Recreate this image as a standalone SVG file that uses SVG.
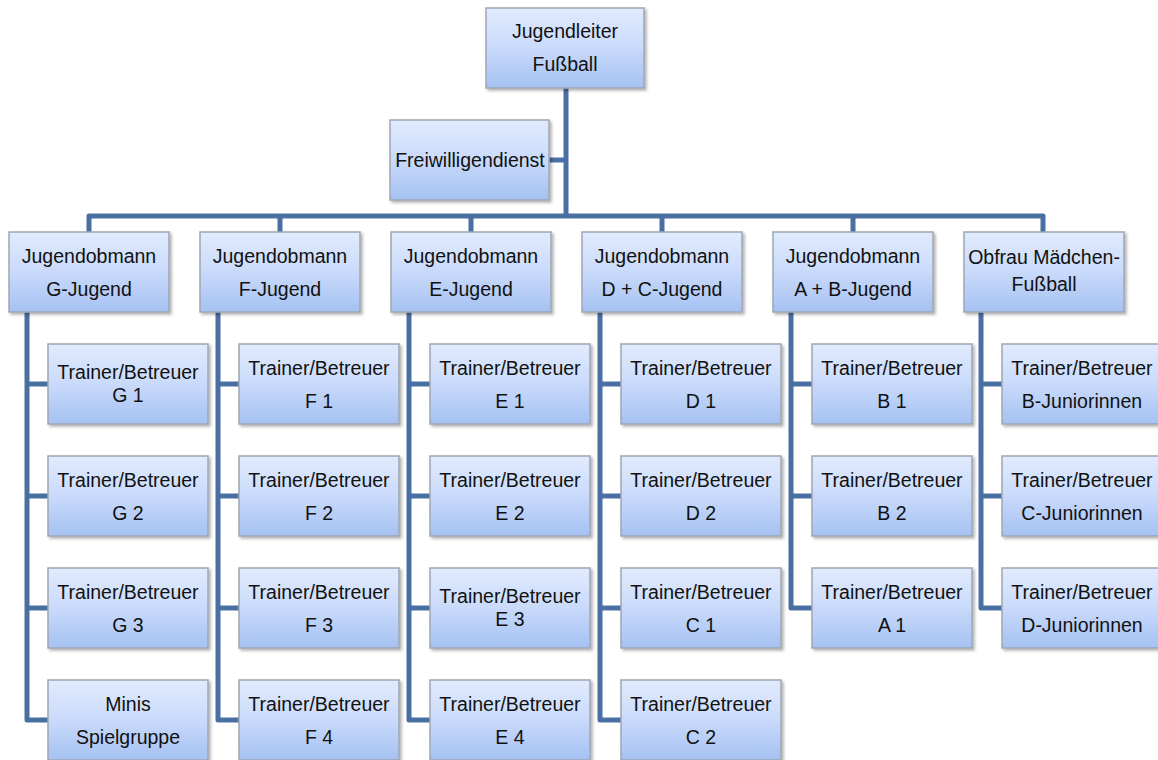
<svg xmlns="http://www.w3.org/2000/svg" width="1158" height="760" viewBox="0 0 1158 760">
<defs>
<linearGradient id="g" x1="0" y1="0" x2="0" y2="1">
<stop offset="0" stop-color="#e1ebfd"/>
<stop offset="0.5" stop-color="#c9dafa"/>
<stop offset="1" stop-color="#a5c1f3"/>
</linearGradient>
<filter id="sh" x="-10%" y="-10%" width="130%" height="130%">
<feDropShadow dx="2" dy="2" stdDeviation="1.5" flood-color="#000" flood-opacity="0.3"/>
</filter>
</defs>
<style>
.b{fill:url(#g);stroke:#9ea7b3;stroke-width:1.5;filter:url(#sh)}
.t{font-family:"Liberation Sans",Arial,sans-serif;font-size:19.5px;fill:#111;text-anchor:middle}
.c{fill:none;stroke:#4a6fa2;stroke-width:5;stroke-linejoin:round;stroke-linecap:butt}
</style>
<rect width="1158" height="760" fill="#fff"/>
<g id="connectors" class="c">
<path d="M566 88 V216"/>
<path d="M549 160 H566"/>
<path d="M89 232 V216 H1043 V232"/>
<path d="M280 216 V232 M471 216 V232 M662 216 V232 M853 216 V232"/>
<path d="M27 312 V720 H48 M27 384 H48 M27 496 H48 M27 608 H48"/>
<path d="M218 312 V720 H239 M218 384 H239 M218 496 H239 M218 608 H239"/>
<path d="M409 312 V720 H430 M409 384 H430 M409 496 H430 M409 608 H430"/>
<path d="M600 312 V720 H621 M600 384 H621 M600 496 H621 M600 608 H621"/>
<path d="M791 312 V608 H812 M791 384 H812 M791 496 H812"/>
<path d="M981 312 V608 H1002 M981 384 H1002 M981 496 H1002"/>
</g>
<g id="n-top"><rect class="b" x="486" y="8" width="158" height="80"/><text class="t" x="565" y="38">Jugendleiter</text><text class="t" x="565" y="71">Fußball</text></g>
<g id="n-frei"><rect class="b" x="390" y="120" width="159" height="80"/><text class="t" x="470" y="167">Freiwilligendienst</text></g>
<g id="n-g"><rect class="b" x="9" y="232" width="160" height="80"/><text class="t" x="89" y="263">Jugendobmann</text><text class="t" x="89" y="296">G-Jugend</text></g>
<g id="n-f"><rect class="b" x="200" y="232" width="160" height="80"/><text class="t" x="280" y="263">Jugendobmann</text><text class="t" x="280" y="296">F-Jugend</text></g>
<g id="n-e"><rect class="b" x="391" y="232" width="160" height="80"/><text class="t" x="471" y="263">Jugendobmann</text><text class="t" x="471" y="296">E-Jugend</text></g>
<g id="n-dc"><rect class="b" x="582" y="232" width="160" height="80"/><text class="t" x="662" y="263">Jugendobmann</text><text class="t" x="662" y="296">D + C-Jugend</text></g>
<g id="n-ab"><rect class="b" x="773" y="232" width="160" height="80"/><text class="t" x="853" y="263">Jugendobmann</text><text class="t" x="853" y="296">A + B-Jugend</text></g>
<g id="n-m"><rect class="b" x="964" y="232" width="160" height="80"/><text class="t" x="1044" y="264">Obfrau Mädchen-</text><text class="t" x="1044" y="291">Fußball</text></g>

<g id="n-g1"><rect class="b" x="48" y="344" width="160" height="80"/><text class="t" x="128" y="379">Trainer/Betreuer</text><text class="t" x="128" y="402">G 1</text></g>
<g id="n-g2"><rect class="b" x="48" y="456" width="160" height="80"/><text class="t" x="128" y="487">Trainer/Betreuer</text><text class="t" x="128" y="520">G 2</text></g>
<g id="n-g3"><rect class="b" x="48" y="568" width="160" height="80"/><text class="t" x="128" y="599">Trainer/Betreuer</text><text class="t" x="128" y="632">G 3</text></g>
<g id="n-minis"><rect class="b" x="48" y="680" width="160" height="80"/><text class="t" x="128" y="711">Minis</text><text class="t" x="128" y="744">Spielgruppe</text></g>

<g id="n-f1"><rect class="b" x="239" y="344" width="160" height="80"/><text class="t" x="319" y="375">Trainer/Betreuer</text><text class="t" x="319" y="408">F 1</text></g>
<g id="n-f2"><rect class="b" x="239" y="456" width="160" height="80"/><text class="t" x="319" y="487">Trainer/Betreuer</text><text class="t" x="319" y="520">F 2</text></g>
<g id="n-f3"><rect class="b" x="239" y="568" width="160" height="80"/><text class="t" x="319" y="599">Trainer/Betreuer</text><text class="t" x="319" y="632">F 3</text></g>
<g id="n-f4"><rect class="b" x="239" y="680" width="160" height="80"/><text class="t" x="319" y="711">Trainer/Betreuer</text><text class="t" x="319" y="744">F 4</text></g>

<g id="n-e1"><rect class="b" x="430" y="344" width="160" height="80"/><text class="t" x="510" y="375">Trainer/Betreuer</text><text class="t" x="510" y="408">E 1</text></g>
<g id="n-e2"><rect class="b" x="430" y="456" width="160" height="80"/><text class="t" x="510" y="487">Trainer/Betreuer</text><text class="t" x="510" y="520">E 2</text></g>
<g id="n-e3"><rect class="b" x="430" y="568" width="160" height="80"/><text class="t" x="510" y="603">Trainer/Betreuer</text><text class="t" x="510" y="626">E 3</text></g>
<g id="n-e4"><rect class="b" x="430" y="680" width="160" height="80"/><text class="t" x="510" y="711">Trainer/Betreuer</text><text class="t" x="510" y="744">E 4</text></g>

<g id="n-d1"><rect class="b" x="621" y="344" width="160" height="80"/><text class="t" x="701" y="375">Trainer/Betreuer</text><text class="t" x="701" y="408">D 1</text></g>
<g id="n-d2"><rect class="b" x="621" y="456" width="160" height="80"/><text class="t" x="701" y="487">Trainer/Betreuer</text><text class="t" x="701" y="520">D 2</text></g>
<g id="n-c1"><rect class="b" x="621" y="568" width="160" height="80"/><text class="t" x="701" y="599">Trainer/Betreuer</text><text class="t" x="701" y="632">C 1</text></g>
<g id="n-c2"><rect class="b" x="621" y="680" width="160" height="80"/><text class="t" x="701" y="711">Trainer/Betreuer</text><text class="t" x="701" y="744">C 2</text></g>

<g id="n-b1"><rect class="b" x="812" y="344" width="160" height="80"/><text class="t" x="892" y="375">Trainer/Betreuer</text><text class="t" x="892" y="408">B 1</text></g>
<g id="n-b2"><rect class="b" x="812" y="456" width="160" height="80"/><text class="t" x="892" y="487">Trainer/Betreuer</text><text class="t" x="892" y="520">B 2</text></g>
<g id="n-a1"><rect class="b" x="812" y="568" width="160" height="80"/><text class="t" x="892" y="599">Trainer/Betreuer</text><text class="t" x="892" y="632">A 1</text></g>

<g id="n-bj"><rect class="b" x="1002" y="344" width="160" height="80"/><text class="t" x="1082" y="375">Trainer/Betreuer</text><text class="t" x="1082" y="408">B-Juniorinnen</text></g>
<g id="n-cj"><rect class="b" x="1002" y="456" width="160" height="80"/><text class="t" x="1082" y="487">Trainer/Betreuer</text><text class="t" x="1082" y="520">C-Juniorinnen</text></g>
<g id="n-dj"><rect class="b" x="1002" y="568" width="160" height="80"/><text class="t" x="1082" y="599">Trainer/Betreuer</text><text class="t" x="1082" y="632">D-Juniorinnen</text></g>
</svg>
